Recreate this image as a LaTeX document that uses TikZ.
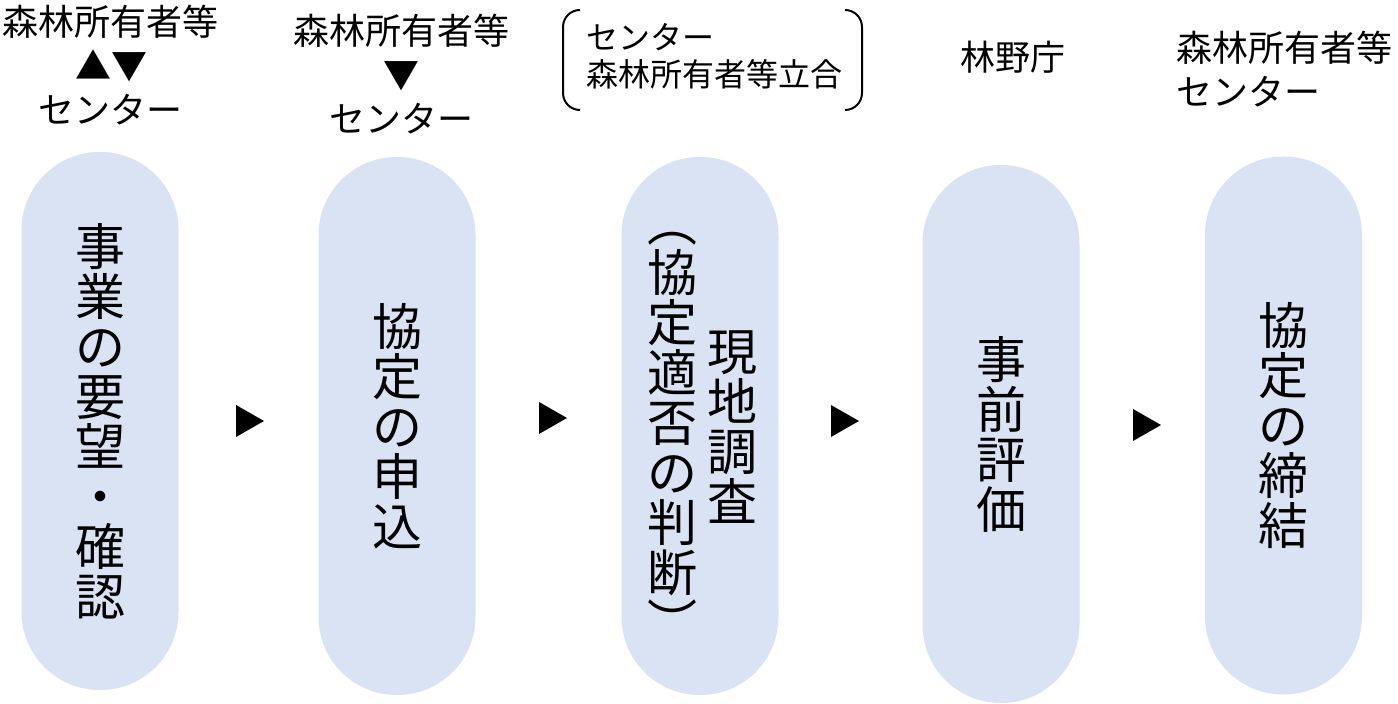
\documentclass[tikz,border=0pt]{standalone}
\usepackage{fontspec}
\setmainfont{Noto Sans CJK JP}
\definecolor{pillblue}{HTML}{DAE3F3}
\tikzset{
  pill/.style={draw=none, fill=pillblue, rectangle, rounded corners=39pt,
    minimum width=78.5pt, minimum height=269pt, inner sep=0pt,
    align=center, font=\fontsize{25}{25}\selectfont},
  vcol/.style={align=center, inner sep=0pt, font=\fontsize{25}{25}\selectfont},
  toplabel/.style={align=center, inner sep=0pt, font=\fontsize{18}{22}\selectfont},
  tri/.style={fill=black},
  brk/.style={draw=black, line width=1pt, rounded corners=8.5pt}
}
\begin{document}
\begin{tikzpicture}[x=0.5pt, y=-0.5pt]
\useasboundingbox (0,0) rectangle (1398,704);

% pills
\node[pill] (p1) at (100,421) {事\\業\\の\\要\\望\\・\\確\\認};
\node[pill] (p2) at (397,426) {協\\定\\の\\申\\込};
\node[pill] (p3) at (700,426) {};
\node[vcol] (p3a) at (672,437) {︵\\協\\定\\適\\否\\の\\判\\断\\︶};
\node[vcol] (p3b) at (732,427) {現\\地\\調\\査};
\node[pill] (p4) at (1001,434) {事\\前\\評\\価};
\node[pill] (p5) at (1283.5,425.5) {協\\定\\の\\締\\結};

% arrow triangles
\fill[tri] (236,405) -- (264,421) -- (236,437) -- cycle;
\fill[tri] (539,402) -- (567,418) -- (539,434) -- cycle;
\fill[tri] (831,405) -- (859,421) -- (831,437) -- cycle;
\fill[tri] (1133,409) -- (1161,425) -- (1133,441) -- cycle;

% top labels
\node[toplabel] (l1) at (111,65) {森林所有者等\\▲▼\\センター};
\node[toplabel] (l2) at (401,74) {森林所有者等\\▼\\センター};
\node[align=left, inner sep=0pt, anchor=west, font=\fontsize{16}{18.5}\selectfont] (l3) at (586,56) {センター\\森林所有者等立合};
\draw[brk] (580,10) -- (563,10) -- (563,110) -- (580,110);
\draw[brk] (845,10) -- (862,10) -- (862,110) -- (845,110);
\node[inner sep=0pt, font=\fontsize{17.5}{20}\selectfont] (l4) at (1013,57) {林野庁};
\node[align=left, inner sep=0pt, anchor=west, font=\fontsize{18}{22}\selectfont] (l5) at (1176,69) {森林所有者等\\センター};
\end{tikzpicture}
\end{document}
